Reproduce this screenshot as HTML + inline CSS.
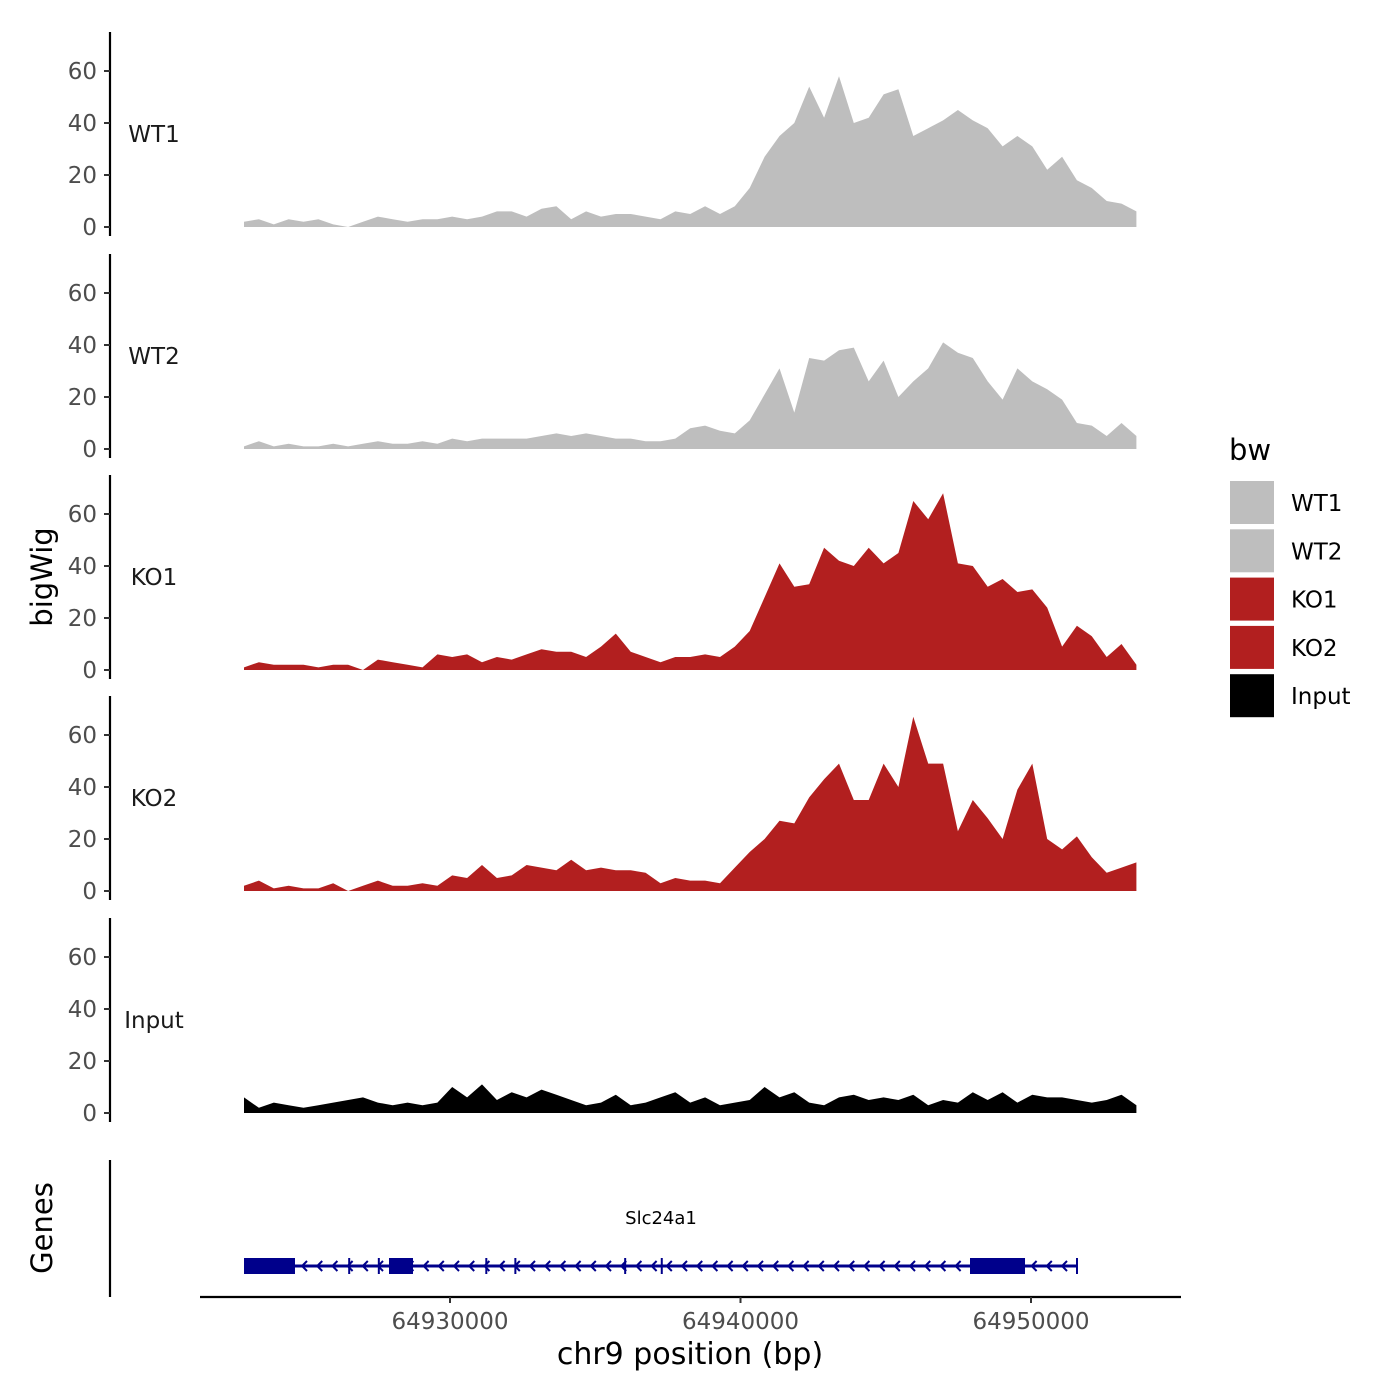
<!DOCTYPE html>
<html><head><meta charset="utf-8"><style>
html,body{margin:0;padding:0;background:#fff;}
svg{display:block;font-family:"DejaVu Sans","Liberation Sans",sans-serif;}
</style></head><body>
<svg id="chart" width="1400" height="1400" viewBox="0 0 1400 1400" xmlns="http://www.w3.org/2000/svg"></svg>
<script>
const trackNames = ["WT1","WT2","KO1","KO2","Input"];
const trackColors = ["#bebebe","#bebebe","#b21f1f","#b21f1f","#000000"];
const binStart = 64922909;
const binSize = 512;
const wt1 = [2,3,1,3,2,3,1,0,2,4,3,2,3,3,4,3,4,6,6,4,7,8,3,6,4,5,5,4,3,6,5,8,5,8,15,27,35,40,54,42,58,40,42,51,53,35,38,41,45,41,38,31,35,31,22,27,18,15,10,9,6];
const wt2 = [1,3,1,2,1,1,2,1,2,3,2,2,3,2,4,3,4,4,4,4,5,6,5,6,5,4,4,3,3,4,8,9,7,6,11,21,31,14,35,34,38,39,26,34,20,26,31,41,37,35,26,19,31,26,23,19,10,9,5,10,5];
const ko1 = [1,3,2,2,2,1,2,2,0,4,3,2,1,6,5,6,3,5,4,6,8,7,7,5,9,14,7,5,3,5,5,6,5,9,15,28,41,32,33,47,42,40,47,41,45,65,58,68,41,40,32,35,30,31,24,9,17,13,5,10,2];
const ko2 = [2,4,1,2,1,1,3,0,2,4,2,2,3,2,6,5,10,5,6,10,9,8,12,8,9,8,8,7,3,5,4,4,3,9,15,20,27,26,36,43,49,35,35,49,40,67,49,49,23,35,28,20,39,49,20,16,21,13,7,9,11];
const input = [6,2,4,3,2,3,4,5,6,4,3,4,3,4,10,6,11,5,8,6,9,7,5,3,4,7,3,4,6,8,4,6,3,4,5,10,6,8,4,3,6,7,5,6,5,7,3,5,4,8,5,8,4,7,6,6,5,4,5,7,3];
const series = [wt1,wt2,ko1,ko2,input];
const yTicks = [0,20,40,60];
const xTicks = [64930000,64940000,64950000];
const xTickLabels = ["64930000","64940000","64950000"];
const exonStarts = [64922909,64927900,64947900];
const exonEnds = [64924664,64928726,64949794];
const geneStart = 64922909, geneEnd = 64951583;
const geneMarks = [64926530,64927550,64931250,64932250,64936030,64937290,64951583];
const geneName = "Slc24a1";

const NS="http://www.w3.org/2000/svg";
const svg=document.getElementById('chart');
function el(t,a,p){const e=document.createElementNS(NS,t);for(const k in a)e.setAttribute(k,a[k]);(p||svg).appendChild(e);return e;}
const xs = bp => 450 + (bp-64930000)*0.02905;
const baselines=[227,449,670,891,1113];
const ys = (v,i) => baselines[i] - v*2.6;

series.forEach((vals,i)=>{
  const g=el('g',{});
  
  
  let d='M'+xs(binStart)+','+baselines[i];
  vals.forEach((v,j)=>{d+=' L'+xs(binStart+j*binSize).toFixed(1)+','+ys(v,i).toFixed(1);});
  d+=' L'+xs(binStart+(vals.length-1)*binSize).toFixed(1)+','+baselines[i]+' Z';
  const p=el('path',{d:d,fill:trackColors[i]},g);
  
  
  const ax=el('line',{x1:110,x2:110,y1:baselines[i]-195,y2:baselines[i]+9,stroke:'#000','stroke-width':2.2},g);
  
  
  yTicks.forEach(t=>{
    const y=ys(t,i);
    el('line',{x1:104,x2:110,y1:y,y2:y,stroke:'#333','stroke-width':2},g);
    const tx=el('text',{x:97,y:y+8,'text-anchor':'end','font-size':23,fill:'#4d4d4d'},g);
    tx.textContent=t;
    
    
  });
  const lb=el('text',{x:154,y:baselines[i]-85,'text-anchor':'middle','font-size':23,fill:'#1a1a1a'},g);
  lb.textContent=trackNames[i];
  
  
});

const yt=el('text',{x:0,y:0,transform:'translate(52,577) rotate(-90)','text-anchor':'middle','font-size':29,fill:'#000'});
yt.textContent='bigWig';


const gt=el('text',{x:0,y:0,transform:'translate(52,1228) rotate(-90)','text-anchor':'middle','font-size':29,fill:'#000'});
gt.textContent='Genes';



const ga=el('line',{x1:110,x2:110,y1:1160,y2:1297,stroke:'#000','stroke-width':2.2});


const gg=el('g',{});


const gy=1266;
el('line',{x1:xs(geneStart),x2:xs(geneEnd),y1:gy,y2:gy,stroke:'#00008b','stroke-width':3},gg);
for(let x=xs(geneStart)+58;x<xs(geneEnd)-5;x+=15.2){
  el('polyline',{points:(x+5)+','+(gy-5)+' '+x+','+gy+' '+(x+5)+','+(gy+5),fill:'none',stroke:'#00008b','stroke-width':2},gg);
}
geneMarks.forEach(b=>{el('line',{x1:xs(b),x2:xs(b),y1:gy-8,y2:gy+8,stroke:'#00008b','stroke-width':2},gg);});
exonStarts.forEach((s,k)=>{
  const r=el('rect',{x:xs(s),y:gy-8,width:xs(exonEnds[k])-xs(s),height:16,fill:'#00008b'},gg);
  
  
});
const gn=el('text',{x:661,y:1224,'text-anchor':'middle','font-size':18,fill:'#000'});
gn.textContent=geneName;



const xa=el('line',{x1:200,x2:1181,y1:1297,y2:1297,stroke:'#000','stroke-width':2.2});


xTicks.forEach((t,k)=>{
  const x=xs(t);
  el('line',{x1:x,x2:x,y1:1297,y2:1303,stroke:'#333','stroke-width':2});
  const tx=el('text',{x:x,y:1329,'text-anchor':'middle','font-size':23,fill:'#4d4d4d'});
  tx.textContent=xTickLabels[k];
  
  
});
const xt=el('text',{x:690,y:1364,'text-anchor':'middle','font-size':30,fill:'#000'});
xt.textContent='chr9 position (bp)';



const lg=el('g',{});


const lt=el('text',{x:1229,y:460,'font-size':29,fill:'#000'},lg);
lt.textContent='bw';


trackNames.forEach((n,k)=>{
  const y=481+k*48.3;
  const e=el('g',{},lg);
  
  
  el('rect',{x:1230,y:y,width:44,height:43,fill:trackColors[k]},e);
  const t=el('text',{x:1291,y:y+30,'font-size':23,fill:'#000'},e);
  t.textContent=n;
});
</script>
</body></html>
